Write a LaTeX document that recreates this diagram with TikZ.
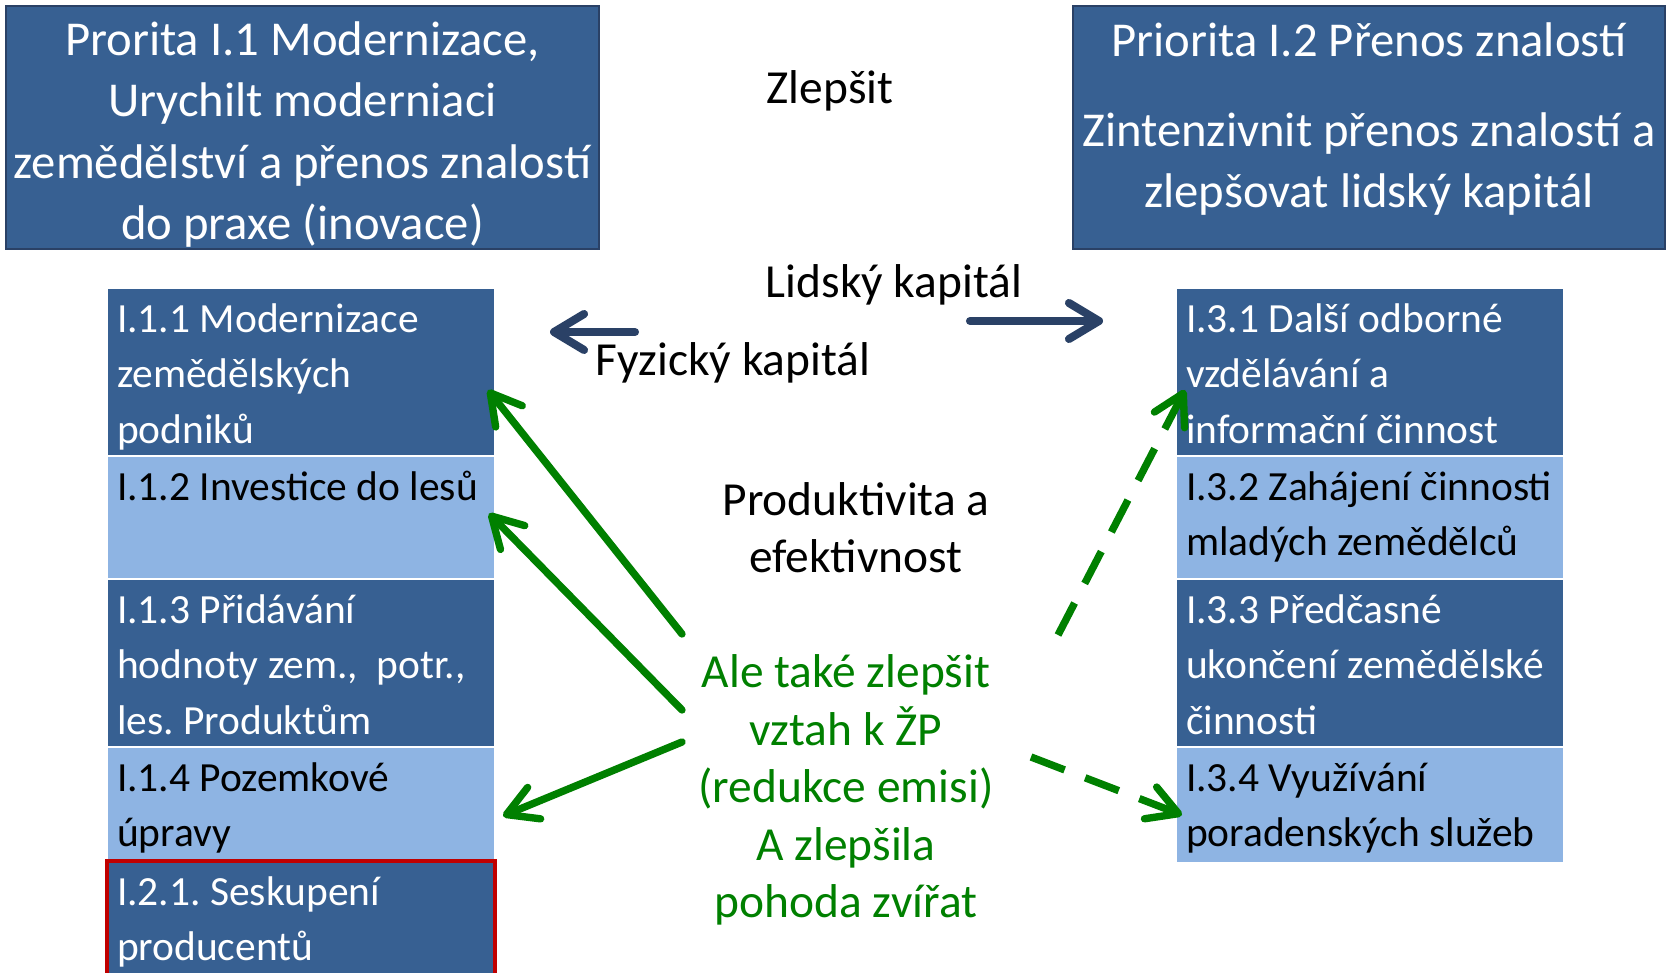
\documentclass[tikz,border=0pt]{standalone}
\usepackage{fontspec}
\setmainfont{Carlito}
\frenchspacing
\usetikzlibrary{arrows.meta, positioning, calc}
\definecolor{mzmodra}{HTML}{376092}
\definecolor{mzsvetla}{HTML}{8EB4E3}
\definecolor{mztmava}{HTML}{2A4166}
\definecolor{mzzelena}{HTML}{008000}
\definecolor{mzcervena}{HTML}{C00000}
\newcommand{\bunkatext}[2]{\parbox[c][#1][t]{36.8mm}{\raggedright\vspace*{0.5mm}\strut #2}}
\newcommand{\prioritatext}[3]{\parbox[c][24.3mm][c]{#1}{\centering\vspace*{#2}#3}}
\tikzset{
  priorita/.style={draw=mztmava, line width=0.8pt, fill=mzmodra, text=white,
    inner sep=0pt, font=\fontsize{13.85}{17.4}\selectfont},
  bunka/.style={draw=white, line width=0.4pt, inner xsep=1mm, inner ysep=0pt, outer sep=0pt,
    font=\fontsize{11.8}{15.9}\selectfont},
  tmava/.style={bunka, fill=mzmodra, text=white},
  svetla/.style={bunka, fill=mzsvetla, text=black},
  popis/.style={align=center, font=\fontsize{13.5}{16.2}\selectfont},
  kapital/.style={-{Straight Barb[round, length=3mm, width=3.6mm]}, line width=2.3pt, line cap=round, color=mztmava},
  sipka/.style={-{Straight Barb[round, length=3mm, width=3.4mm]}, line width=2.1pt, line cap=round, color=mzzelena},
  carkovana/.style={sipka, dash pattern=on 3.6mm off 2.2mm, line cap=butt},
}
\begin{document}
\begin{tikzpicture}[x=0.1mm, y=-0.1mm, node distance=0pt]
  \useasboundingbox[fill=white] (0,0) rectangle (1667,973);
  % priority boxes
  \node[priorita] (p11) at (302.5,127.5)
    {\prioritatext{59.3mm}{1.4mm}{Prorita I.1 Modernizace,\\Urychilt moderniaci\\zemědělství a přenos znalostí\\do praxe (inovace)}};
  \node[priorita] (p12) at (1369,127.5)
    {\prioritatext{59.2mm}{-1.7mm}{Priorita I.2 Přenos znalostí\\[8pt]Zintenzivnit přenos znalostí a\\zlepšovat lidský kapitál}};
  % left column
  \node[tmava, anchor=north west] (c111) at (107,288) {\bunkatext{16.8mm}{I.1.1 Modernizace\\zemědělských\\podniků}};
  \node[svetla, below=of c111] (c112) {\bunkatext{12.3mm}{I.1.2 Investice do lesů}};
  \node[tmava, below=of c112] (c113) {\bunkatext{16.8mm}{I.1.3 Přidávání\\hodnoty zem.,~ potr.,\\les. Produktům}};
  \node[svetla, below=of c113] (c114) {\bunkatext{11.4mm}{I.1.4 Pozemkové\\úpravy}};
  \node[tmava, draw=mzcervena, line width=0.9pt, below=of c114] (c121) {\bunkatext{14mm}{I.2.1. Seskupení\\producentů}};
  % right column
  \node[tmava, anchor=north west] (c131) at (1176,288) {\bunkatext{16.8mm}{I.3.1 Další odborné\\vzdělávání a\\informační činnost}};
  \node[svetla, below=of c131] (c132) {\bunkatext{12.3mm}{I.3.2 Zahájení činnosti\\mladých zemědělců}};
  \node[tmava, below=of c132] (c133) {\bunkatext{16.8mm}{I.3.3 Předčasné\\ukončení zemědělské\\činnosti}};
  \node[svetla, below=of c133] (c134) {\bunkatext{11.6mm}{I.3.4 Využívání\\poradenských služeb}};
  % labels
  \node[popis] (zlepsit) at (830,91) {Zlepšit};
  \node[popis] (lidsky) at (894,285) {Lidský kapitál};
  \node[popis] (fyzicky) at (733,363) {Fyzický kapitál};
  \node[popis] (produkt) at (856,528) {Produktivita a\\efektivnost};
  \node[popis, text=mzzelena, font=\fontsize{13.5}{16.4}\selectfont] (zp) at (846,790)
    {Ale také zlepšit\\vztah k ŽP\\(redukce emisi)\\A zlepšila\\pohoda zvířat};
  % arrows
  \coordinate (fk) at (635,332);
  \coordinate (fkk) at (550,332);
  \coordinate (lk) at (970,321);
  \coordinate (lkk) at (1103,321);
  \draw[kapital] (fk) -- (fkk);
  \draw[kapital] (lk) -- (lkk);
  \coordinate (z1) at (682,634);
  \coordinate (z2) at (682,710);
  \coordinate (z3) at (682,742);
  \coordinate (z4) at (1058,635);
  \coordinate (z5) at (1031,757);
  \draw[sipka] (z1) -- ($(c111.east)+(-7,18)$);
  \draw[sipka] (z2) -- ($(c112.east)+(-6,-4)$);
  \draw[sipka] (z3) -- ($(c114.east)+(8,12)$);
  \draw[carkovana] (z4) -- ($(c131.west)+(9,18)$);
  \draw[carkovana] (z5) -- ($(c134.west)+(6,10)$);
\end{tikzpicture}
\end{document}
